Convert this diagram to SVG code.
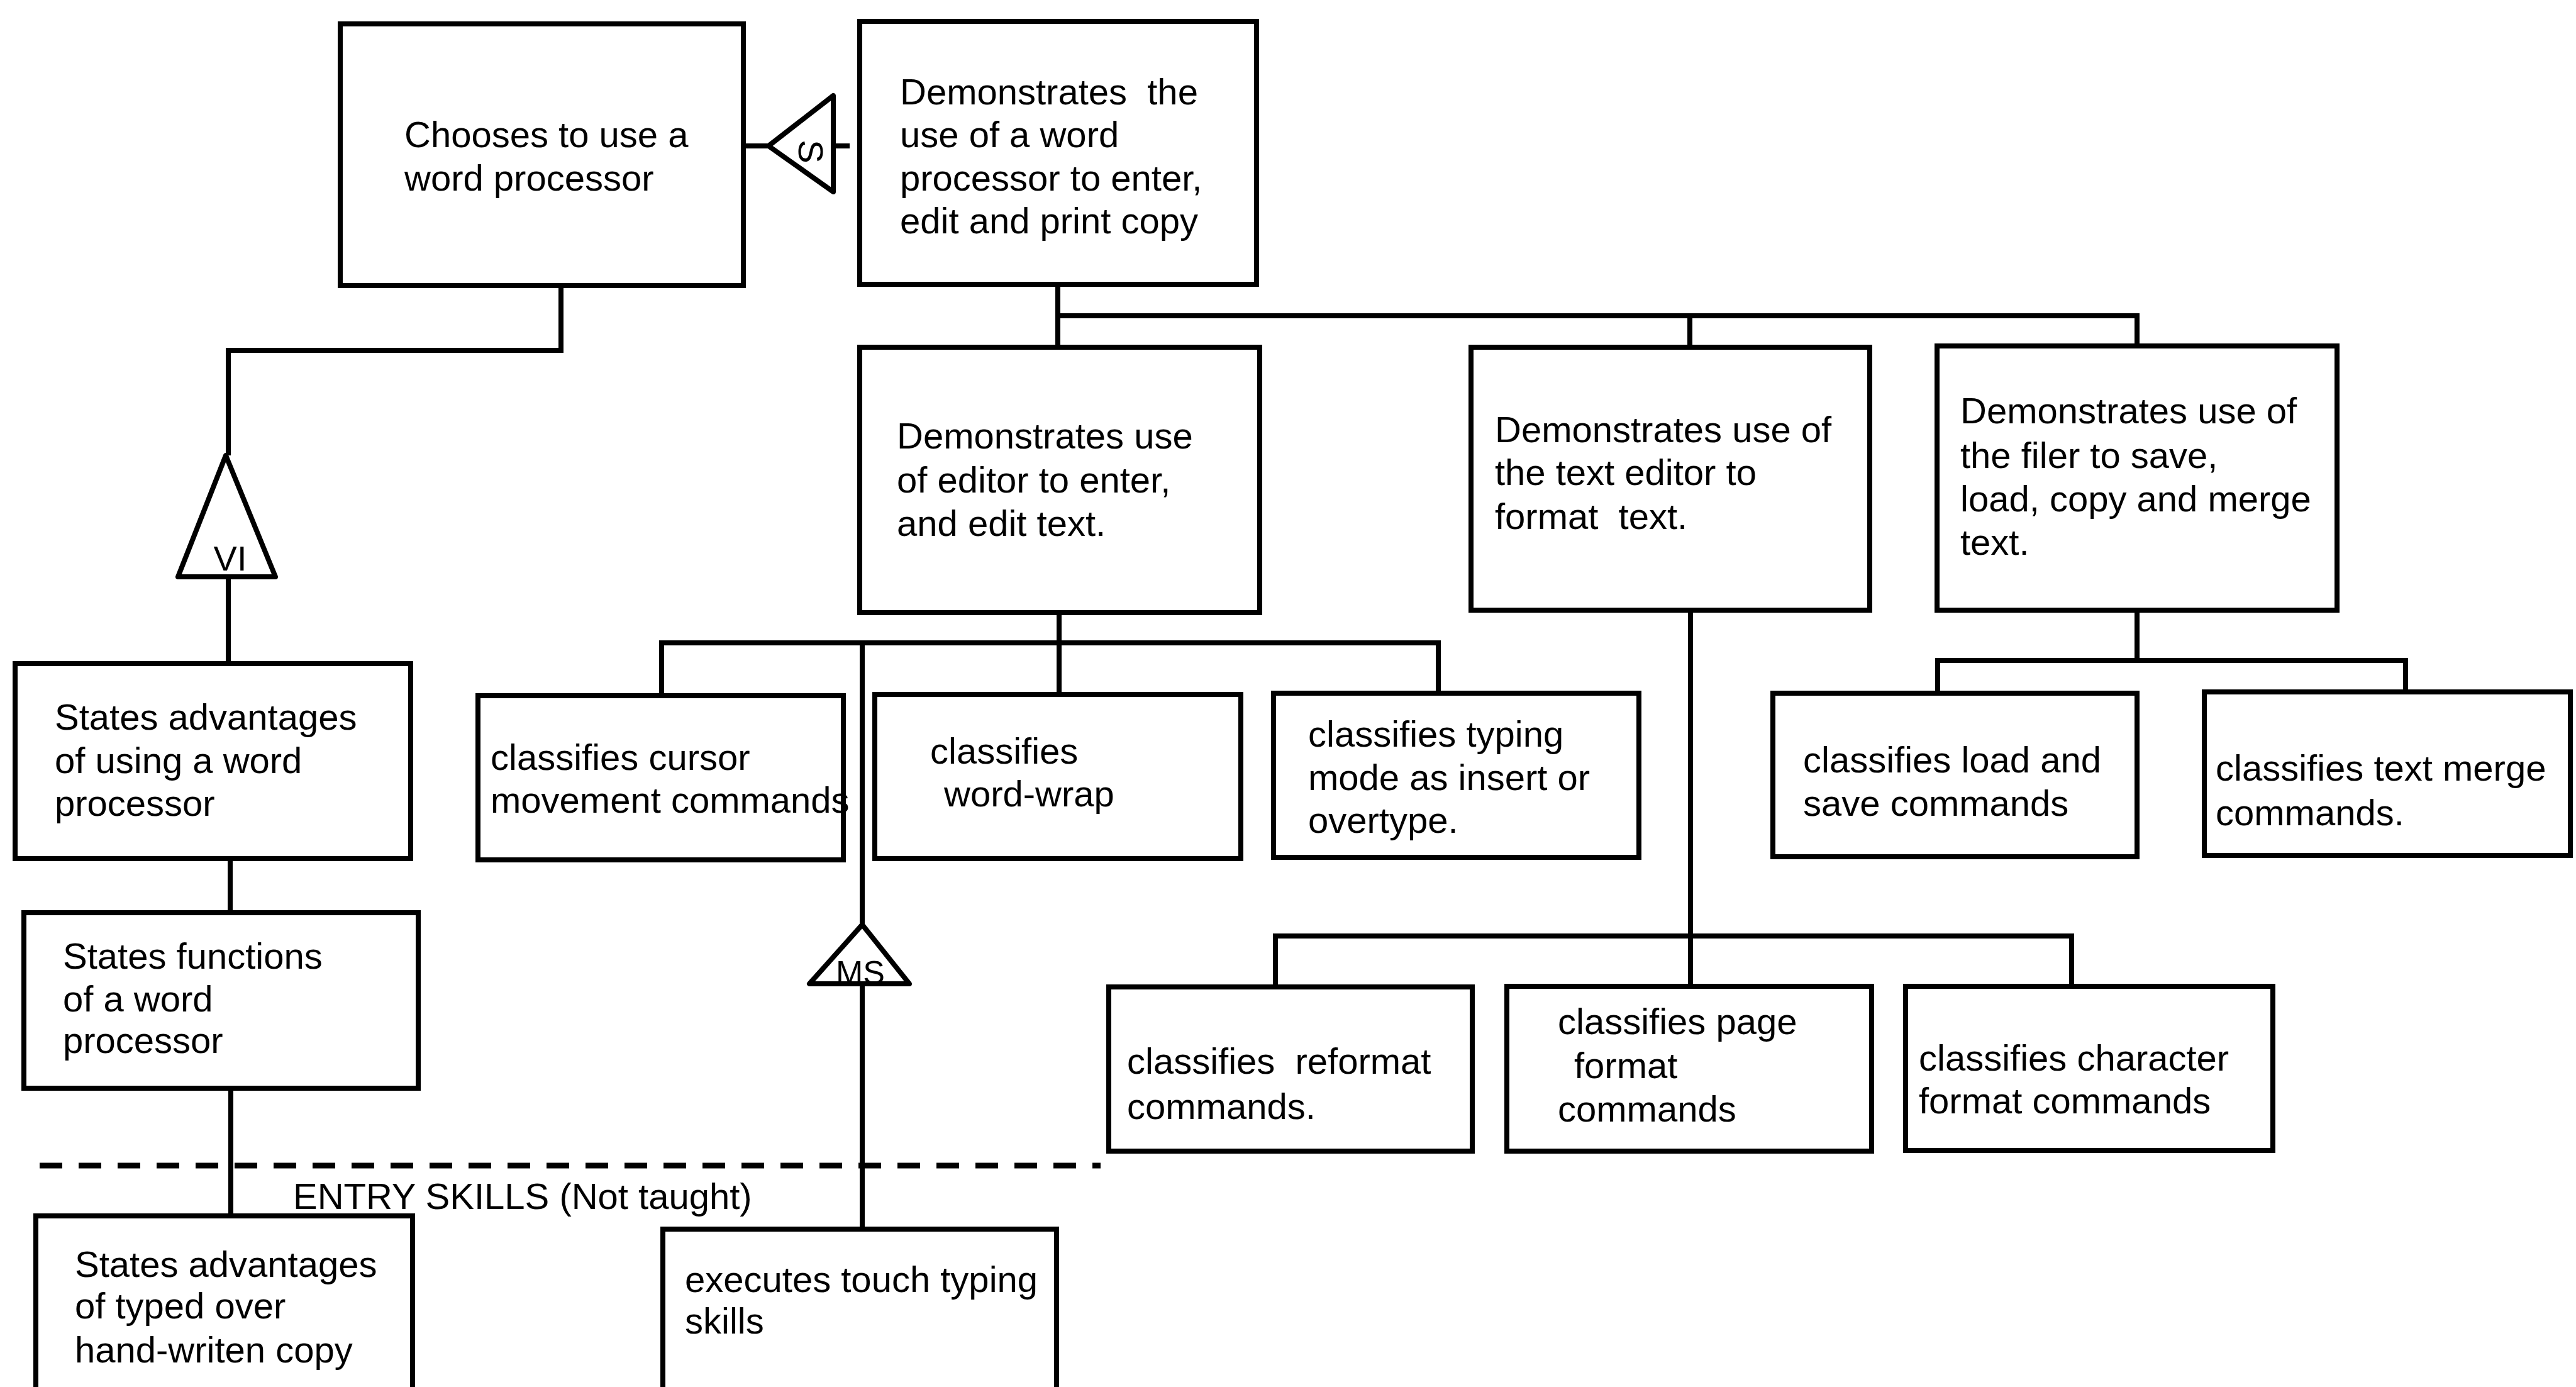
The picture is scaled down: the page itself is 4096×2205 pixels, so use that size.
<svg xmlns="http://www.w3.org/2000/svg" width="4096" height="2205" viewBox="0 0 4096 2205">
  <style>
    .box { fill: #ffffff; stroke: #000000; stroke-width: 8; }
    .wire { fill: none; stroke: #000000; stroke-width: 8; stroke-linejoin: miter; }
    .tri { fill: #ffffff; stroke: #000000; stroke-width: 8; stroke-linejoin: round; }
    .dash { fill: none; stroke: #000000; stroke-width: 9; stroke-dasharray: 36 26; }
    text { font-family: "Liberation Sans", Arial, sans-serif; font-size: 58px; fill: #000000; }
    .tag { font-size: 56px; }
  </style>
  <rect width="4096" height="2205" fill="#ffffff"/>

  <!-- connectors -->
  <g id="connectors">
    <!-- chooses -> S -> demonstrates -->
    <line class="wire" x1="1182" y1="232" x2="1224" y2="232"/>
    <line class="wire" x1="1325" y1="232" x2="1351" y2="232"/>
    <!-- chooses down to VI triangle -->
    <polyline class="wire" points="892,454 892,557 363,557 363,724"/>
    <line class="wire" x1="363" y1="917" x2="363" y2="1055"/>
    <line class="wire" x1="366" y1="1365" x2="366" y2="1451"/>
    <line class="wire" x1="367" y1="1730" x2="367" y2="1933"/>
    <!-- top tree -->
    <line class="wire" x1="1682" y1="452" x2="1682" y2="552"/>
    <polyline class="wire" points="1682,502 3398,502 3398,550"/>
    <line class="wire" x1="2687" y1="502" x2="2687" y2="552"/>
    <!-- editor subtree -->
    <line class="wire" x1="1684" y1="974" x2="1684" y2="1104"/>
    <polyline class="wire" points="1052,1106 1052,1022 2287,1022 2287,1102"/>
    <!-- MS link to touch typing -->
    <line class="wire" x1="1371" y1="1022" x2="1371" y2="1470"/>
    <line class="wire" x1="1371" y1="1564" x2="1371" y2="1954"/>
    <!-- format subtree -->
    <line class="wire" x1="2688" y1="970" x2="2688" y2="1568"/>
    <polyline class="wire" points="2028,1569 2028,1488 3294,1488 3294,1568"/>
    <!-- filer subtree -->
    <line class="wire" x1="3398" y1="970" x2="3398" y2="1050"/>
    <polyline class="wire" points="3081,1102 3081,1050 3825,1050 3825,1100"/>
    <!-- entry skills boundary -->
    <line class="dash" x1="63" y1="1853" x2="1750" y2="1853"/>
  </g>

  <!-- relation markers -->
  <g id="marker-s">
    <polygon class="tri" points="1222,232 1325,152 1325,305"/>
    <text class="tag" transform="translate(1289,241) rotate(90)" text-anchor="middle" dominant-baseline="central">S</text>
  </g>
  <g id="marker-vi">
    <polygon class="tri" points="359,724 283,917 438,917"/>
    <text class="tag" x="366" y="907" text-anchor="middle">VI</text>
  </g>
  <g id="marker-ms">
    <polygon class="tri" points="1371,1470 1287,1564 1446,1564"/>
    <text class="tag" x="1368" y="1564" text-anchor="middle" style="font-size:52px">MS</text>
  </g>

  <!-- nodes -->
  <g id="n-chooses">
    <rect class="box" x="541" y="38" width="641" height="416"/>
    <text x="643" y="234">Chooses to use a</text>
    <text x="643" y="303">word processor</text>
  </g>
  <g id="n-demonstrates">
    <rect class="box" x="1367" y="34" width="631" height="418"/>
    <text x="1431" y="166" xml:space="preserve">Demonstrates  the</text>
    <text x="1431" y="234">use of a word</text>
    <text x="1431" y="303">processor to enter,</text>
    <text x="1431" y="371">edit and print copy</text>
  </g>
  <g id="n-advantages">
    <rect class="box" x="24" y="1055" width="629" height="310"/>
    <text x="87" y="1160">States advantages</text>
    <text x="87" y="1229">of using a word</text>
    <text x="87" y="1297">processor</text>
  </g>
  <g id="n-functions">
    <rect class="box" x="38" y="1451" width="627" height="279"/>
    <text x="100" y="1540">States functions</text>
    <text x="100" y="1608">of a word</text>
    <text x="100" y="1674">processor</text>
  </g>
  <g id="n-typed">
    <rect class="box" x="57" y="1933" width="599" height="300"/>
    <text x="119" y="2030">States advantages</text>
    <text x="119" y="2096">of typed over</text>
    <text x="119" y="2166">hand-writen copy</text>
  </g>
  <g id="n-touch">
    <rect class="box" x="1054" y="1954" width="626" height="300"/>
    <text x="1089" y="2054">executes touch typing</text>
    <text x="1089" y="2120">skills</text>
  </g>
  <g id="n-editor">
    <rect class="box" x="1367" y="552" width="636" height="422"/>
    <text x="1426" y="713">Demonstrates use</text>
    <text x="1426" y="783">of editor to enter,</text>
    <text x="1426" y="852">and edit text.</text>
  </g>
  <g id="n-format">
    <rect class="box" x="2339" y="552" width="634" height="418"/>
    <text x="2377" y="703">Demonstrates use of</text>
    <text x="2377" y="771">the text editor to</text>
    <text x="2377" y="841" xml:space="preserve">format  text.</text>
  </g>
  <g id="n-filer">
    <rect class="box" x="3080" y="550" width="636" height="420"/>
    <text x="3117" y="673">Demonstrates use of</text>
    <text x="3117" y="744">the filer to save,</text>
    <text x="3117" y="813">load, copy and merge</text>
    <text x="3117" y="882">text.</text>
  </g>
  <g id="n-cursor">
    <rect class="box" x="760" y="1106" width="581" height="261"/>
    <text x="780" y="1224">classifies cursor</text>
    <text x="780" y="1292">movement commands</text>
  </g>
  <g id="n-wordwrap">
    <rect class="box" x="1391" y="1104" width="582" height="261"/>
    <text x="1479" y="1214">classifies</text>
    <text x="1501" y="1282">word-wrap</text>
  </g>
  <g id="n-typing">
    <rect class="box" x="2025" y="1102" width="581" height="261"/>
    <text x="2080" y="1187">classifies typing</text>
    <text x="2080" y="1256">mode as insert or</text>
    <text x="2080" y="1324">overtype.</text>
  </g>
  <g id="n-loadsave">
    <rect class="box" x="2819" y="1102" width="579" height="260"/>
    <text x="2867" y="1228">classifies load and</text>
    <text x="2867" y="1297">save commands</text>
  </g>
  <g id="n-merge">
    <rect class="box" x="3505" y="1100" width="582" height="260"/>
    <text x="3523" y="1241">classifies text merge</text>
    <text x="3523" y="1312">commands.</text>
  </g>
  <g id="n-reformat">
    <rect class="box" x="1763" y="1569" width="578" height="261"/>
    <text x="1792" y="1707" xml:space="preserve">classifies  reformat</text>
    <text x="1792" y="1779">commands.</text>
  </g>
  <g id="n-page">
    <rect class="box" x="2396" y="1568" width="580" height="262"/>
    <text x="2477" y="1644">classifies page</text>
    <text x="2503" y="1714">format</text>
    <text x="2477" y="1783">commands</text>
  </g>
  <g id="n-character">
    <rect class="box" x="3030" y="1568" width="584" height="261"/>
    <text x="3051" y="1702">classifies character</text>
    <text x="3051" y="1770">format commands</text>
  </g>

  <!-- boundary caption -->
  <text x="466" y="1922">ENTRY SKILLS (Not taught)</text>
</svg>
